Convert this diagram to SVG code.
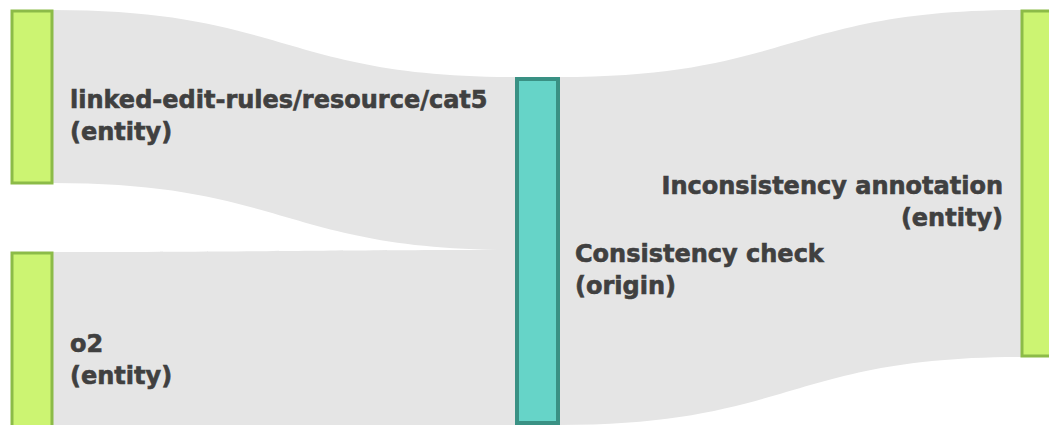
<svg xmlns="http://www.w3.org/2000/svg" width="1049" height="425" viewBox="0 0 1049 425">
<style>
.link{fill:#e5e5e5;stroke:none}
.ent{fill:#ccf472;stroke:#8cbb48;stroke-width:3}
.org{fill:#66d4c8;stroke:#3a9184;stroke-width:4}
.lbl{font-family:"DejaVu Sans","Liberation Sans",sans-serif;font-weight:700;font-size:24px;fill:#404040;stroke:#404040;stroke-width:0.6}
</style>
<rect width="1049" height="425" fill="#ffffff"/>
<g id="connectors">
<path class="link" d="M53,10 C284,10 284,77 515,77 L515,250 C284,250 284,183 53,183 Z"/>
<path class="link" d="M53,252 C284,252 284,250 515,250 L515,425 C284,425 284,425 53,425 Z"/>
<path class="link" d="M559,77 C790,77 790,10 1021,10 L1021,357 C790,357 790,425 559,425 Z"/>
</g>
<g id="node-cat5">
<rect class="ent" x="12" y="11" width="40" height="172"/>
<text class="lbl" x="70" y="108">linked-edit-rules/resource/cat5</text>
<text class="lbl" x="70" y="140">(entity)</text>
</g>
<g id="node-o2">
<rect class="ent" x="12" y="253" width="40" height="175"/>
<text class="lbl" x="70" y="352">o2</text>
<text class="lbl" x="70" y="384">(entity)</text>
</g>
<g id="node-consistency-check">
<rect class="org" x="517" y="79" width="41" height="344"/>
<text class="lbl" x="575" y="262">Consistency check</text>
<text class="lbl" x="575" y="294">(origin)</text>
</g>
<g id="node-inconsistency-annotation">
<rect class="ent" x="1022" y="11" width="30" height="345"/>
<text class="lbl" x="1003" y="194" text-anchor="end">Inconsistency annotation</text>
<text class="lbl" x="1003" y="226" text-anchor="end">(entity)</text>
</g>
</svg>
